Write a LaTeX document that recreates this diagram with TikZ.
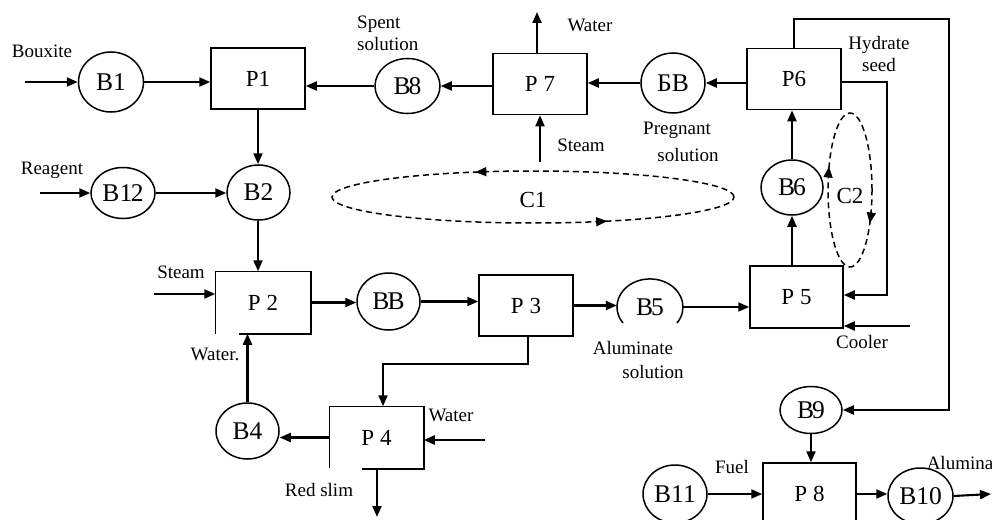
\documentclass[tikz,border=0pt]{standalone}
\usepackage{fontspec}
\setmainfont{Liberation Serif}
\usetikzlibrary{shapes.geometric,arrows.meta,decorations.markings}
\tikzset{
  box/.style={draw, line width=1.5pt, minimum width=94pt, minimum height=61pt, inner sep=0pt, font=\fontsize{23}{25}\selectfont},
  vessel/.style={draw, ellipse, line width=1.5pt, inner sep=0pt, font=\fontsize{25.5}{27}\selectfont},
  lbl/.style={font=\fontsize{19}{22}\selectfont, inner sep=0pt, align=center},
  flow/.style={line width=2.1pt, -{Triangle[length=11pt,width=9pt]}},
  cyc/.style={dash pattern=on 6pt off 4pt, line width=1.5pt},
  ccwmarks/.style 2 args={postaction={decorate, decoration={markings,
     mark=at position #1 with {\arrow{Triangle[length=11pt,width=9pt]}},
     mark=at position #2 with {\arrow{Triangle[length=11pt,width=9pt]}}}}},
  cwmarks/.style 2 args={postaction={decorate, decoration={markings,
     mark=at position #1 with {\arrowreversed{Triangle[length=11pt,width=9pt]}},
     mark=at position #2 with {\arrowreversed{Triangle[length=11pt,width=9pt]}}}}},
}
\begin{document}
\begin{tikzpicture}[x=1pt,y=-1pt]
\path[use as bounding box, fill=white] (0,0) rectangle (992,519);
\clip (0,0) rectangle (992,519);

% process boxes
\node[box] (P1) at (258,78.5) {P1};
\node[box] (P7) at (540,84) {P 7};
\node[box] (P6) at (794,79) {P6};
\node[box, draw=none] (P2) at (263,302.5) {P 2};
\draw[line width=1.5pt] (P2.south west) -- (P2.north west) -- (P2.north east) -- (P2.south east) -- ([xshift=24pt]P2.south west);
\node[box] (P3) at (526,305.5) {P 3};
\node[box, draw=none, minimum width=93pt] (P4) at (376.5,437.5) {P 4};
\draw[line width=1.5pt] ([yshift=1pt]P4.south west) -- (P4.north west) -- (P4.north east) -- (P4.south east) -- ([xshift=33pt]P4.south west);
\node[box, minimum width=93pt, minimum height=62pt] (P5) at (796.5,297) {P 5};
\node[box, minimum width=93pt, minimum height=62pt] (P8) at (809.5,494) {P 8};

% vessels
\node[vessel, minimum width=65pt, minimum height=60pt] (B1) at (111,82) {B1};
\node[vessel, minimum width=65pt, minimum height=55pt] (B8) at (407.5,86) {B\kern-2pt 8};
\node[vessel, minimum width=64pt, minimum height=60pt] (BV) at (673,83) {БВ};
\node[vessel, minimum width=64pt, minimum height=51pt] (B12) at (123,193) {B1\kern-1.5pt 2};
\node[vessel, minimum width=63pt, minimum height=55pt] (B2) at (258.5,192.5) {B2};
\node[vessel, minimum width=62pt, minimum height=55pt] (B6) at (792,187.5) {B\kern-2pt 6};
\node[vessel, minimum width=63pt, minimum height=57pt] (BB) at (388.5,301.5) {B\kern-2pt B};
\node[ellipse, minimum width=66pt, minimum height=56pt, inner sep=0pt, font=\fontsize{25.5}{27}\selectfont] (B5) at (650,307) {B\kern-2pt 5};
\draw[line width=1.5pt] (677,323) arc[start angle=-35, end angle=215, x radius=33pt, y radius=28pt];
\node[vessel, minimum width=63pt, minimum height=56pt] (B4) at (247.5,431) {B4};
\node[vessel, minimum width=62pt, minimum height=47pt] (B9) at (811,410) {B\kern-2pt 9};
\node[vessel, minimum width=64pt, minimum height=58pt] (B11) at (675,494) {B11};
\node[vessel, minimum width=65pt, minimum height=56pt] (B10) at (920.5,496) {B10};

% free ends
\coordinate (bx) at (25,82);
\coordinate (rg) at (40,193);
\coordinate (w7) at (537,12);
\coordinate (s7) at (540,162);
\coordinate (loop) at (949,19);
\coordinate (hs) at (887,200);
\coordinate (cool) at (910,326);
\coordinate (p34) at (383,364);
\coordinate (w4) at (485,440);
\coordinate (rs) at (377,517);
\coordinate (s2) at (154,294);
\coordinate (al) at (991,494);

% flows
\draw[flow] (bx) -- (bx -| B1.west);
\draw[flow] (B1.east) -- (B1.east -| P1.west);
\draw[flow] (B8.west) -- (B8.west -| P1.east);
\draw[flow] (P7.west |- B8.east) -- (B8.east);
\draw[flow] (w7 |- P7.north) -- (w7);
\draw[flow] (s7) -- (s7 |- P7.south);
\draw[flow] (BV.west) -- (BV.west -| P7.east);
\draw[flow] (P6.west |- BV.east) -- (BV.east);
\draw[flow] (P6.north) |- (loop) |- (B9.east);
\draw[flow] ([yshift=-3pt]P6.east) -| (hs) |- ([yshift=2pt]P5.east);
\draw[flow] (cool) -- (cool -| P5.east);
\draw[flow] (B6.north) -- (B6.north |- P6.south);
\draw[flow] (B6.south |- P5.north) -- (B6.south);
\draw[flow] (B5.east) -- (B5.east -| P5.west);
\draw[flow] (P3.east) -- (P3.east -| B5.west);
\draw[flow] (P2.east) -- (P2.east -| BB.west);
\draw[flow] (BB.east) -- (BB.east -| P3.west);
\draw[flow] ([xshift=2pt]P3.south) |- (p34) -- (p34 |- P4.north);
\draw[flow] (P4.west) -- (P4.west -| B4.east);
\draw[flow] (B4.north) -- (B4.north |- P2.south);
\draw[flow] (w4) -- (w4 -| P4.east);
\draw[flow] (rs |- P4.south) -- (rs);
\draw[flow] (s2) -- (s2 -| P2.west);
\draw[flow] (P1.south) -- (P1.south |- B2.north);
\draw[flow] (P1.south |- B2.south) -- (P1.south |- P2.north);
\draw[flow] (B12.east) -- (B12.east -| B2.west);
\draw[flow] (rg) -- (rg -| B12.west);
\draw[flow] (B9.south) -- (B9.south |- P8.north);
\draw[flow] (B11.east) -- (B11.east -| P8.west);
\draw[flow] (P8.east) -- (P8.east -| B10.west);
\draw[flow] (B10.east) -- (al);

% control loops
\coordinate (C1c) at (533,197);
\draw[cyc, ccwmarks={0.32}{0.84}] (C1c) ellipse [x radius=201pt, y radius=26pt];
\coordinate (C2c) at (850,190);
\draw[cyc, cwmarks={0.43}{0.90}] (C2c) ellipse [x radius=22pt, y radius=77pt];
\node[font=\fontsize{23}{25}\selectfont, inner sep=0pt] (tC1) at (533,200) {C1};
\node[font=\fontsize{23}{25}\selectfont, inner sep=0pt] (tC2) at (850,196) {C2};

% labels
\node[lbl] (tBx) at (42,51) {Bouxite};
\node[lbl] (tRg) at (52,170) {Reagent};
\node[lbl, align=left, anchor=west] (tSp) at (357,33) {Spent\\solution};
\node[lbl] (tW7) at (590,25) {Water};
\node[lbl] (tS7) at (581,145) {Steam};
\node[lbl] (tPr1) at (677,130) {Pregnant};
\node[lbl] (tPr2) at (688,155) {solution};
\node[lbl] (tHy) at (879,54) {Hydrate\\seed};
\node[lbl] (tS2) at (181,272) {Steam};
\node[lbl] (tWa) at (215,354) {Water.};
\node[lbl] (tAl1) at (633,348) {Aluminate};
\node[lbl] (tAl2) at (653,372) {solution};
\node[lbl] (tCo) at (862,342) {Cooler};
\node[lbl] (tW4) at (451,415) {Water};
\node[lbl] (tRs) at (319,490) {Red slim};
\node[lbl] (tFu) at (732,467) {Fuel};
\node[lbl] (tAm) at (960,463) {Alumina};
\end{tikzpicture}
\end{document}
